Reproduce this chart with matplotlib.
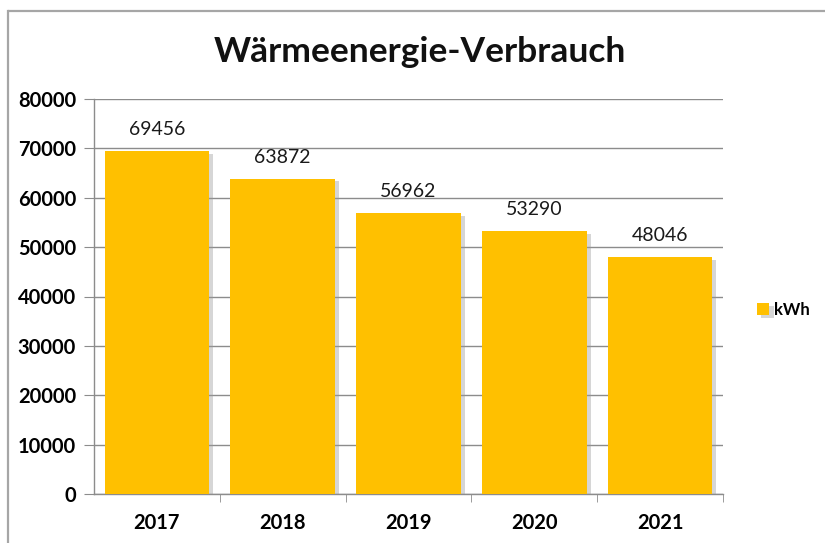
import matplotlib.pyplot as plt
import matplotlib.patheffects as pe
from matplotlib.lines import Line2D
import numpy as np

# Chart data
years = ['2017', '2018', '2019', '2020', '2021']
kwh = [69456, 63872, 56962, 53290, 48046]
title = 'Wärmeenergie-Verbrauch'
series_name = 'kWh'

bar_color = '#FFC000'
grid_color = '#8C8C8C'

plt.rcParams['font.family'] = ['Lato', 'DejaVu Sans']

fig = plt.figure(figsize=(8.25, 5.43), dpi=100)
ax = fig.add_axes([94 / 825, 1 - 494 / 543, (723 - 94) / 825, (494 - 99) / 543])

# outer chart border (only the top and left edges are visible in the crop)
bx, by = 7.5 / 825, 1 - 10.5 / 543
fig.add_artist(Line2D([bx, bx], [0, by], transform=fig.transFigure,
                      color='#A6A6A6', linewidth=1.6))
fig.add_artist(Line2D([bx, 1.01], [by, by], transform=fig.transFigure,
                      color='#A6A6A6', linewidth=1.6, solid_capstyle='butt'))

x = np.arange(len(years))
bars = ax.bar(x, kwh, width=0.83, color=bar_color, zorder=3,
              label=series_name)
for b in bars:
    b.set_path_effects([pe.SimplePatchShadow(offset=(3, -2), shadow_rgbFace='#9a9a9a',
                                             alpha=0.4), pe.Normal()])

# value labels above the bars
for xi, v in zip(x, kwh):
    ax.text(xi, v + 2600, str(v), ha='center', va='bottom', fontsize=14,
            color='#1a1a1a')

ax.set_xlim(-0.5, len(years) - 0.5)
ax.set_ylim(0, 80000)
ax.set_yticks(range(0, 80001, 10000))
ax.set_yticklabels([str(t) for t in range(0, 80001, 10000)],
                   fontsize=14.5, fontweight='bold')
ax.set_xticks(x)
ax.set_xticklabels(years, fontsize=14.5, fontweight='bold')
ax.set_xticks(np.arange(0.5, len(years) - 0.5 + 1, 1), minor=True)
ax.tick_params(axis='x', which='major', length=0, pad=14)
ax.tick_params(axis='x', which='minor', length=6, color=grid_color, direction='out')
ax.tick_params(axis='y', length=7, color=grid_color, pad=6)

ax.yaxis.grid(True, color=grid_color, linewidth=1.0, zorder=0)
ax.set_axisbelow(True)
for side in ['top', 'right']:
    ax.spines[side].set_visible(False)
for side in ['left', 'bottom']:
    ax.spines[side].set_color(grid_color)
    ax.spines[side].set_linewidth(1.0)

fig.text(420 / 825, 1 - 52 / 543, title, ha='center', va='center',
         fontsize=25.5, fontweight='bold', color='#111111')

ax.legend(loc='center left', bbox_to_anchor=((757 - 94) / 629, (494 - 310) / 395),
          frameon=False, prop={'size': 12, 'weight': 'bold'},
          handlelength=0.75, handleheight=0.75,
          handletextpad=0.25, borderaxespad=0, borderpad=0)

fig.savefig('out.png', dpi=100)
